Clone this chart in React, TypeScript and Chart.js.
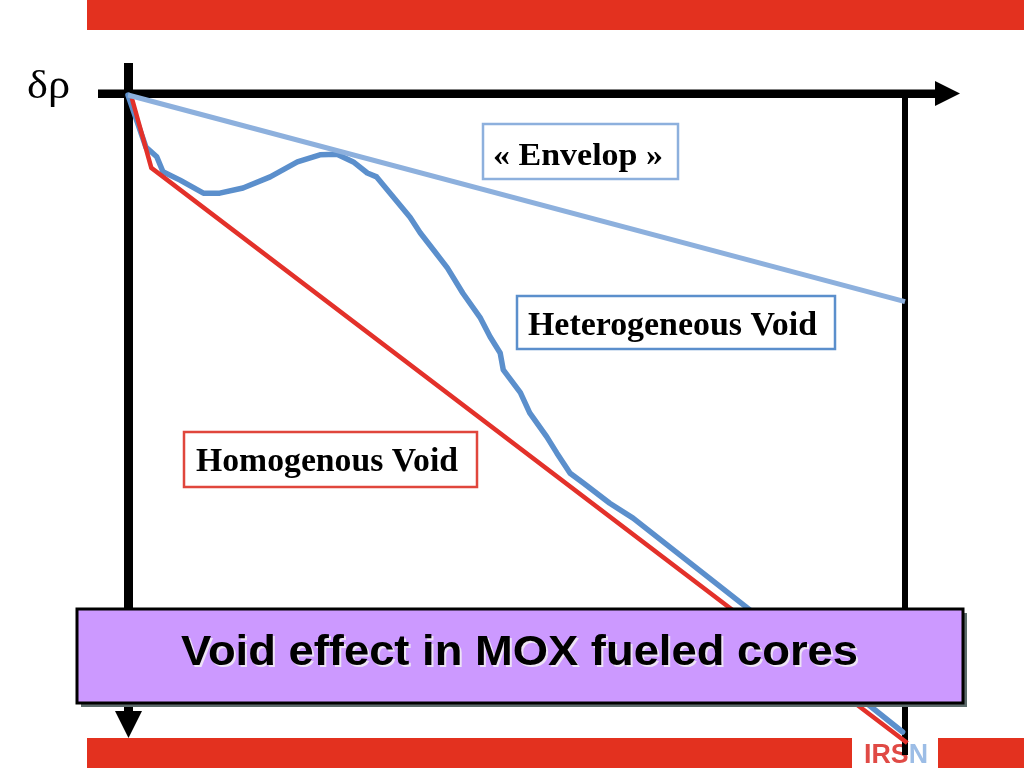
import { useEffect, useRef } from 'react';
import { Chart, registerables } from 'chart.js';

Chart.register(...registerables);

// Data (x: void fraction, 0..100 ; y: δρ, 0 at origin, negative downward)
const envelopeX = [0, 100];
const envelopeY = [0, -31.8];

const homogenousX = [0.5, 3.0, 100.3];
const homogenousY = [-0.5, -11.2, -99.7];

const heterogeneousX = [0, 2.3, 3.7, 4.5, 6.7, 9.7, 11.8, 14.8, 18.3, 21.8, 24.7, 26.9, 29.0, 30.8, 32.0, 36.3, 37.6, 39.3, 41.1, 43.1, 45.3, 46.6, 47.9, 48.3, 50.5, 51.7, 53.9, 55.2, 56.9, 58.6, 62.0, 65.0, 79.7, 99.7];
const heterogeneousY = [0, -8.0, -9.5, -11.8, -13.1, -15.1, -15.1, -14.3, -12.6, -10.3, -9.2, -9.1, -10.3, -12.0, -12.6, -18.8, -21.2, -23.8, -26.6, -30.5, -34.2, -37.2, -39.7, -42.3, -45.8, -48.9, -52.6, -55.1, -58.2, -59.7, -62.8, -65.1, -78.9, -98.0];

const titleText = 'Void effect in MOX fueled cores';
const axisLabel = 'δρ';
const envelopeLabel = '« Envelop »';
const heteroLabel = 'Heterogeneous Void';
const homoLabel = 'Homogenous Void';

const RED = '#E3311F';

function zip(xs: number[], ys: number[]) {
  return xs.map((x, i) => ({ x, y: ys[i] }));
}

function fitText(ctx: CanvasRenderingContext2D, text: string, font: string, left: number, baseline: number, width: number, color: string) {
  ctx.save();
  ctx.font = font;
  ctx.textBaseline = 'alphabetic';
  ctx.textAlign = 'left';
  const w = ctx.measureText(text).width;
  const sx = width / w;
  ctx.translate(left, baseline);
  ctx.scale(sx, 1);
  ctx.fillStyle = color;
  ctx.fillText(text, 0, 0);
  ctx.restore();
}

function labelBox(ctx: CanvasRenderingContext2D, x: number, y: number, w: number, h: number, border: string, text: string, font: string, tl: number, tb: number, tw: number) {
  ctx.save();
  ctx.fillStyle = '#ffffff';
  ctx.fillRect(x, y, w, h);
  ctx.strokeStyle = border;
  ctx.lineWidth = 2.5;
  ctx.strokeRect(x, y, w, h);
  ctx.restore();
  fitText(ctx, text, font, tl, tb, tw, '#000000');
}

const decorPlugin = {
  id: 'decor',
  beforeDatasetsDraw(chart: any) {
    const ctx: CanvasRenderingContext2D = chart.ctx;
    ctx.save();
    // red bands
    ctx.fillStyle = RED;
    ctx.fillRect(87, 0, 937, 30);
    ctx.fillRect(87, 738, 765, 30);
    ctx.fillRect(938, 738, 86, 30);
    // IRSN logo
    ctx.font = 'bold 27px "Liberation Sans", Arial, sans-serif';
    const full = ctx.measureText('IRSN').width;
    const sx = 64 / full;
    const irs = ctx.measureText('IRS').width;
    ctx.save();
    ctx.translate(864, 763);
    ctx.scale(sx, 1);
    ctx.fillStyle = '#E04A45';
    ctx.fillText('IRS', 0, 0);
    ctx.fillStyle = '#9CBDE6';
    ctx.fillText('N', irs, 0);
    ctx.restore();

    // axes
    ctx.fillStyle = '#000000';
    ctx.fillRect(124, 63, 9, 652);
    ctx.beginPath();
    ctx.moveTo(115, 711);
    ctx.lineTo(142, 711);
    ctx.lineTo(128.5, 738);
    ctx.closePath();
    ctx.fill();
    ctx.fillRect(98, 89.5, 840, 8.5);
    ctx.beginPath();
    ctx.moveTo(935, 81);
    ctx.lineTo(960, 93.5);
    ctx.lineTo(935, 106);
    ctx.closePath();
    ctx.fill();
    ctx.fillRect(902, 93, 6, 662);
    ctx.restore();

    fitText(ctx, axisLabel, '40px "Liberation Serif", "Times New Roman", serif', 27, 98, 43, '#000000');
  },
  afterDatasetsDraw(chart: any) {
    const ctx: CanvasRenderingContext2D = chart.ctx;
    const serif = 'bold 34px "Liberation Serif", "Times New Roman", serif';
    labelBox(ctx, 483, 124, 195, 55, '#8DB0DD', envelopeLabel, 'bold 31px "Liberation Serif", "Times New Roman", serif', 493, 165, 170);
    labelBox(ctx, 517, 296, 318, 53, '#5B8FCC', heteroLabel, serif, 528, 335, 289);
    labelBox(ctx, 184, 432, 293, 55, '#E0463C', homoLabel, serif, 196, 471, 262);

    // title box
    ctx.save();
    ctx.fillStyle = '#5C6B6B';
    ctx.fillRect(81, 613, 886, 94);
    ctx.fillStyle = '#CC99FF';
    ctx.fillRect(77, 609, 886, 94);
    ctx.strokeStyle = '#000000';
    ctx.lineWidth = 3;
    ctx.strokeRect(77, 609, 886, 94);
    ctx.restore();
    const tf = 'bold 42px "Liberation Sans", Arial, sans-serif';
    fitText(ctx, titleText, tf, 183, 667, 677, '#EDE3F5');
    fitText(ctx, titleText, tf, 181, 665, 677, '#000000');
  },
};

export default function App() {
  const ref = useRef<HTMLCanvasElement>(null);
  useEffect(() => {
    const chart = new Chart(ref.current!, {
      type: 'line',
      data: {
        datasets: [
          {
            label: 'Envelop',
            data: zip(envelopeX, envelopeY),
            borderColor: '#8DB0DD',
            borderWidth: 5,
            pointRadius: 0,
            tension: 0,
            clip: false,
          } as any,
          {
            label: 'Homogenous Void',
            data: zip(homogenousX, homogenousY),
            borderColor: '#E3312A',
            borderWidth: 4.5,
            pointRadius: 0,
            tension: 0,
            clip: false,
          },
          {
            label: 'Heterogeneous Void',
            data: zip(heterogeneousX, heterogeneousY),
            borderColor: '#5B8FCC',
            borderWidth: 5.5,
            pointRadius: 0,
            tension: 0,
            clip: false,
            borderJoinStyle: 'round',
            borderCapStyle: 'round',
          },
        ],
      },
      options: {
        responsive: false,
        animation: false,
        devicePixelRatio: 1,
        layout: { padding: { left: 128, right: 119, top: 95, bottom: 23 } },
        scales: {
          x: { type: 'linear', min: 0, max: 100, display: false },
          y: { type: 'linear', min: -100, max: 0, display: false },
        },
        plugins: {
          legend: { display: false },
          tooltip: { enabled: false },
          title: { display: false },
        },
      },
      plugins: [decorPlugin],
    });
    return () => chart.destroy();
  }, []);
  return (
    <div style={{ position: 'absolute', left: 0, top: 0, width: 1024, height: 768, background: '#ffffff' }}>
      <canvas ref={ref} width={1024} height={768} style={{ display: 'block' }} />
    </div>
  );
}
